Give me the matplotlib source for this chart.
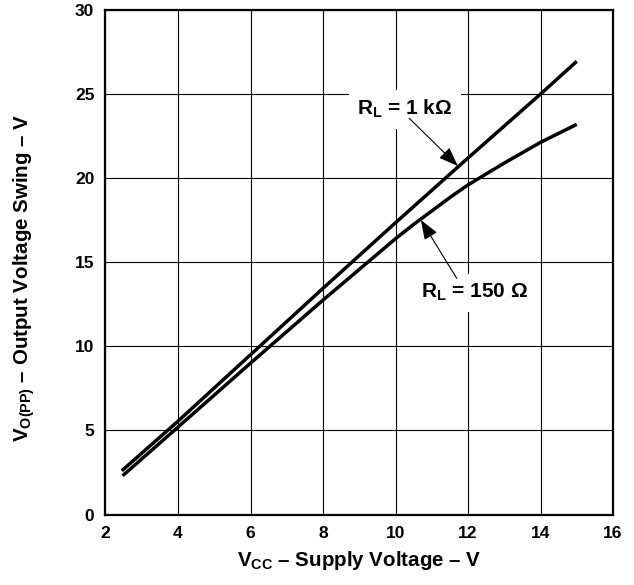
import matplotlib
matplotlib.use("Agg")
from matplotlib import pyplot as plt

plt.rcParams['font.family'] = ['Liberation Sans', 'DejaVu Sans']
plt.rcParams['font.weight'] = 'bold'
plt.rcParams['mathtext.fontset'] = 'custom'
plt.rcParams['mathtext.rm'] = 'Liberation Sans:bold'
plt.rcParams['mathtext.it'] = 'Liberation Sans:bold'
plt.rcParams['mathtext.bf'] = 'Liberation Sans:bold'

# R_L = 1 kohm curve
vcc_1k = [2.45, 4, 6, 8, 10, 12, 14, 15]
vo_1k = [2.6, 5.55, 9.5, 13.45, 17.35, 21.2, 25.0, 26.95]

# R_L = 150 ohm curve
vcc_150 = [2.47, 4, 6, 8, 10, 10.5, 11, 11.5, 12, 13, 14, 15]
vo_150 = [2.3, 5.2, 9.0, 12.75, 16.4, 17.25, 18.05, 18.85, 19.6, 20.9, 22.13, 23.2]

x_ticks = [2, 4, 6, 8, 10, 12, 14, 16]
y_ticks = [0, 5, 10, 15, 20, 25, 30]

# label text position, arrow tail, arrow head (data coords)
labels = [
    ('R$_{\\mathrm{L}}$ = 1 k\u03a9', (10.25, 24.1), (10.38, 23.56), (11.72, 20.72)),
    ('R$_{\\mathrm{L}}$ = 150 \u03a9', (12.17, 13.2), (11.69, 14.04), (10.70, 17.51)),
]

fig = plt.figure(figsize=(6.34, 5.85), dpi=100)
ax = fig.add_axes([0.1664, 0.1205, 0.8005, 0.8624])

ax.plot(vcc_1k, vo_1k, color='black', lw=2.5, solid_capstyle='butt',
        solid_joinstyle='round', zorder=3)
ax.plot(vcc_150, vo_150, color='black', lw=2.5, solid_capstyle='butt',
        solid_joinstyle='round', zorder=3)

for text, pos, tail, head in labels:
    ax.text(pos[0], pos[1], text, fontsize=15, fontweight='bold',
            ha='center', va='center', zorder=4,
            bbox=dict(boxstyle='square,pad=0.4', fc='white', ec='none'))
    ax.annotate('', xy=head, xytext=tail, zorder=5,
                arrowprops=dict(arrowstyle='-|>,head_length=1.2,head_width=0.45',
                                color='black', lw=0.8, shrinkA=0, shrinkB=0))

ax.set_xlim(2, 16)
ax.set_ylim(0, 30)
ax.set_xticks(x_ticks)
ax.set_yticks(y_ticks)
ax.tick_params(length=0, labelsize=12.5, pad=8)
for lab in ax.get_xticklabels() + ax.get_yticklabels():
    lab.set_fontweight('bold')

ax.grid(True, color='black', lw=0.8)
ax.set_axisbelow(True)
for s in ax.spines.values():
    s.set_linewidth(1.6)

ax.set_xlabel('V$_{\\mathrm{CC}}$ \u2013 Supply Voltage \u2013 V', fontsize=14.8,
              fontweight='bold', labelpad=6)
ax.set_ylabel('V$_{\\mathrm{O(PP)}}$ \u2013 Output Voltage Swing \u2013 V', fontsize=14.8,
              fontweight='bold')
ax.yaxis.set_label_coords(-0.135, 0.47)

fig.savefig('out.png', dpi=100)
